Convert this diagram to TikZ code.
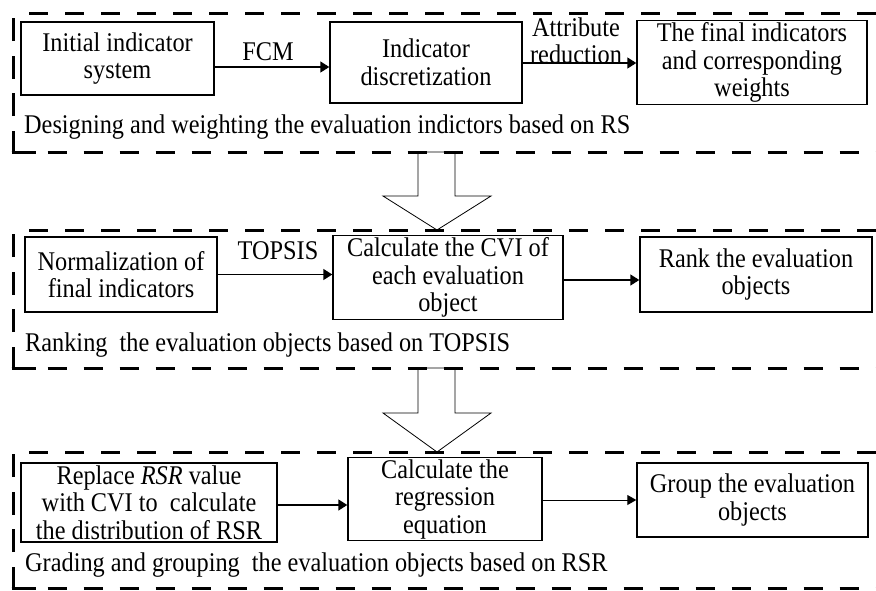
\documentclass[tikz,border=0pt]{standalone}
\usepackage{fontspec}
\setmainfont{Liberation Serif}[FakeStretch=0.9]
\usetikzlibrary{arrows.meta}
\begin{document}
\begin{tikzpicture}[x=1pt,y=-1pt,
  every node/.style={font=\fontsize{27}{27.5}\selectfont},
  stepbox/.style={draw,line width=1.4pt,align=center,inner sep=2pt},
  stagebox/.style={draw,line width=3pt,dash pattern=on 19pt off 17pt},
  stageside/.style={draw,line width=3pt,dash pattern=on 23pt off 14.5pt},
  flow/.style={line width=1.4pt,-{Triangle[length=9pt,width=11pt]}},
  thinflow/.style={line width=0.9pt,-{Triangle[length=9pt,width=10pt]}},
  bigarrow/.style={draw,fill=white,line width=0.8pt},
  stagelabel/.style={anchor=west,inner sep=0pt},
  edgelabel/.style={align=center,inner sep=0pt}]
\useasboundingbox (0,0) rectangle (876,590);
\clip (0,0) rectangle (876,590);
\fill[white] (0,0) rectangle (876,590);

% block arrows between stages
\draw[bigarrow] (418,152) -- (455,152) -- (455,196) -- (491,196) -- (437,230) -- (383,196) -- (418,196) -- cycle;
\draw[bigarrow] (418,368) -- (455,368) -- (455,413) -- (491,413) -- (437,452) -- (383,413) -- (418,413) -- cycle;

% stage frames (right side runs off the picture)
\foreach \t/\b in {13/152, 230/368, 452/588}{
  \draw[stageside] (13,\b+1.5) -- (13,\t);
  \draw[stagebox] (29,\t) -- (920,\t);
  \draw[stagebox] (11.5,\b) -- (920,\b);
  \draw[line width=3pt] (11.5,\b) -- (36,\b);
}

% stage 1
\node[stepbox,minimum width=193pt,minimum height=73pt] (n11) at (117.5,58.5) {Initial indicator\\system};
\node[stepbox,minimum width=192pt,minimum height=81pt] (n12) at (426,62.5) {Indicator\\discretization};
\node[stepbox,minimum width=230pt,minimum height=81pt] (n13) at (752,62.5) {The final indicators\\and corresponding\\weights};
\draw[flow] ([yshift=-8.5pt]n11.east) -- ([yshift=-8.5pt]n11.east -| n12.west);
\node[edgelabel] (l11) at (268,52) {FCM};
\draw[flow] ([yshift=-0.5pt]n12.east) -- ([yshift=-0.5pt]n12.east -| n13.west);
\node[edgelabel] (l12) at (576,41) {Attribute\\reduction};
\node[stagelabel] (s1) at (24,127) {Designing and weighting the evaluation indictors based on RS};

% stage 2
\node[stepbox,minimum width=192pt,minimum height=75pt] (n21) at (121,274.5) {Normalization of\\final indicators};
\node[stepbox,minimum width=230pt,minimum height=81pt] (n22) at (448,277.5) {Calculate the CVI of\\each evaluation\\object};
\node[stepbox,minimum width=232pt,minimum height=75pt] (n23) at (756,274.5) {Rank the evaluation\\objects};
\draw[flow] (n21.east) -- (n21.east -| n22.west);
\node[edgelabel] (l21) at (278,251) {TOPSIS};
\draw[flow] ([yshift=-2.5pt]n22.east) -- ([yshift=-2.5pt]n22.east -| n23.west);
\node[stagelabel] (s2) at (25,345) {Ranking\ \ the evaluation objects based on TOPSIS};

% stage 3
\node[stepbox,minimum width=256pt,minimum height=79pt] (n31) at (149,502.5) {Replace \textit{RSR} value\\with CVI to\ \ calculate\\the distribution of RSR};
\node[stepbox,minimum width=194pt,minimum height=82pt] (n32) at (445,499) {Calculate the\\regression\\equation};
\node[stepbox,minimum width=231pt,minimum height=74pt] (n33) at (752.5,500) {Group the evaluation\\objects};
\draw[flow] ([yshift=-2.5pt]n31.east) -- ([yshift=-2.5pt]n31.east -| n32.west);
\draw[thinflow] ([yshift=-1pt]n32.east) -- ([yshift=-1pt]n32.east -| n33.west);
\node[stagelabel] (s3) at (25,565) {Grading and grouping\ \ the evaluation objects based on RSR};
\end{tikzpicture}
\end{document}
